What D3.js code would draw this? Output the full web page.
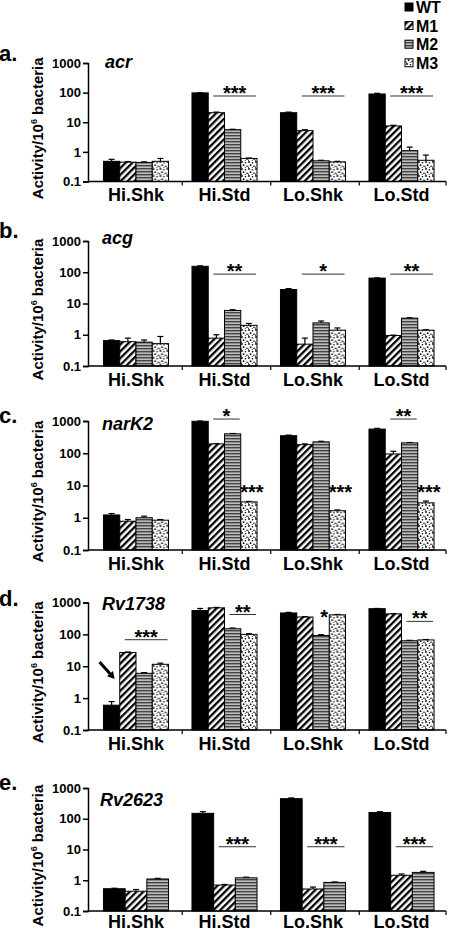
<!DOCTYPE html>
<html><head><meta charset="utf-8">
<script src="https://cdn.jsdelivr.net/npm/d3@7"></script>
<style>body{margin:0;background:#fff}svg{display:block}</style>
</head><body><svg id="chart" width="450" height="931"></svg>
<script>
// ---------------- DATA ----------------
const categories = ["Hi.Shk", "Hi.Std", "Lo.Shk", "Lo.Std"];
const series = ["WT", "M1", "M2", "M3"];
const seriesE = ["WT", "M1", "M2"];
const genes = ["acr", "acg", "narK2", "Rv1738", "Rv2623"];
const panelLetters = ["a.", "b.", "c.", "d.", "e."];
const yTicks = [0.1, 1, 10, 100, 1000];
const yTickLabels = ["0.1", "1", "10", "100", "1000"];

// values[category][series]; errors = top of error bar
const acrValues = [[0.48, 0.45, 0.44, 0.48], [98, 21, 5.6, 0.6], [21, 5.2, 0.5, 0.46], [90, 7.5, 1.1, 0.52]];
const acrErrors = [[0.56, 0.47, 0.46, 0.6], [100, 22, 5.8, 0.62], [22, 5.6, 0.52, 0.48], [95, 7.9, 1.45, 0.78]];
const acgValues = [[0.65, 0.6, 0.58, 0.52], [155, 0.78, 6.0, 2.0], [28, 0.5, 2.4, 1.4], [65, 0.95, 3.4, 1.4]];
const acgErrors = [[0.68, 0.78, 0.68, 0.88], [160, 1.0, 6.3, 2.3], [30, 0.78, 2.75, 1.65], [66, 0.97, 3.5, 1.45]];
const narK2Values = [[1.22, 0.78, 1.0, 0.84], [980, 195, 400, 3.1], [350, 185, 225, 1.65], [560, 95, 210, 2.9]];
const narK2Errors = [[1.35, 0.88, 1.12, 0.88], [1000, 200, 410, 3.2], [365, 195, 235, 1.75], [590, 115, 215, 3.3]];
const rv1738Values = [[0.6, 27, 6, 11.5], [560, 680, 150, 100], [470, 350, 92, 410], [640, 440, 63, 67]];
const rv1738Errors = [[0.78, 28, 6.3, 12.5], [650, 700, 158, 105], [490, 360, 98, 420], [650, 450, 65, 69]];
const rv2623Values = [[0.53, 0.44, 1.1], [150, 0.7, 1.2], [450, 0.52, 0.85], [160, 1.45, 1.8]];
const rv2623Errors = [[0.55, 0.5, 1.15], [170, 0.73, 1.26], [475, 0.6, 0.88], [170, 1.6, 1.95]];

// significance marks: category, first/last series compared, level (data units), label
const acrSig = [
  {cat: "Hi.Std", from: "M1", to: "M3", y: 77, label: "***"},
  {cat: "Lo.Shk", from: "M1", to: "M3", y: 77, label: "***"},
  {cat: "Lo.Std", from: "M1", to: "M3", y: 77, label: "***"}];
const acgSig = [
  {cat: "Hi.Std", from: "M1", to: "M3", y: 87, label: "**"},
  {cat: "Lo.Shk", from: "M1", to: "M3", y: 87, label: "*"},
  {cat: "Lo.Std", from: "M1", to: "M3", y: 87, label: "**"}];
const narK2Sig = [
  {cat: "Hi.Std", from: "M1", to: "M2", y: 1150, label: "*"},
  {cat: "Lo.Std", from: "M1", to: "M2", y: 1150, label: "**"},
  {cat: "Hi.Std", at: "M3", y: 5.2, label: "***"},
  {cat: "Lo.Shk", at: "M3", y: 5.2, label: "***"},
  {cat: "Lo.Std", at: "M3", y: 5.2, label: "***"}];
const rv1738Sig = [
  {cat: "Hi.Shk", from: "M1", to: "M3", y: 68, label: "***"},
  {cat: "Hi.Std", from: "M2", to: "M3", y: 420, label: "**"},
  {cat: "Lo.Shk", at: "M2", y: 275, label: "*"},
  {cat: "Lo.Std", from: "M2", to: "M3", y: 256, label: "**"}];
const rv2623Sig = [
  {cat: "Hi.Std", from: "M1", to: "M2", y: 12.3, label: "***"},
  {cat: "Lo.Shk", from: "M1", to: "M2", y: 12.3, label: "***"},
  {cat: "Lo.Std", from: "M1", to: "M2", y: 12.3, label: "***"}];

// ---------------- LAYOUT ----------------
const panels = [
  {values: acrValues, errors: acrErrors, ser: series, sig: acrSig},
  {values: acgValues, errors: acgErrors, ser: series, sig: acgSig},
  {values: narK2Values, errors: narK2Errors, ser: series, sig: narK2Sig},
  {values: rv1738Values, errors: rv1738Errors, ser: series, sig: rv1738Sig, arrow: true},
  {values: rv2623Values, errors: rv2623Errors, ser: seriesE, sig: rv2623Sig}];
const layout = [
  {top: 63, bottom: 181.5, letterY: 61, geneX: 105, geneY: 68},
  {top: 241, bottom: 366, letterY: 238, geneX: 102, geneY: 244},
  {top: 421, bottom: 550, letterY: 423, geneX: 102, geneY: 430},
  {top: 602.5, bottom: 730, letterY: 606, geneX: 102, geneY: 610},
  {top: 788, bottom: 911, letterY: 790, geneX: 100, geneY: 806}];
const axisX = 88, axisRight = 446;
const FONT = "'Liberation Sans', Arial, Helvetica, sans-serif";

const svg = d3.select("#chart").style("font-family", FONT);
const defs = svg.append("defs");

// patterns
const fills = {WT: "#000", M1: "url(#pM1)", M2: "url(#pM2)", M3: "url(#pM3)"};
const p1 = defs.append("pattern").attr("id", "pM1").attr("patternUnits", "userSpaceOnUse")
  .attr("width", 4.8).attr("height", 4.8).attr("patternTransform", "rotate(45)");
p1.append("rect").attr("width", 4.8).attr("height", 4.8).attr("fill", "#fff");
p1.append("rect").attr("width", 2.3).attr("height", 4.8).attr("fill", "#000");
const p2 = defs.append("pattern").attr("id", "pM2").attr("patternUnits", "userSpaceOnUse")
  .attr("width", 4).attr("height", 3);
p2.append("rect").attr("width", 4).attr("height", 3).attr("fill", "#bcbcbc");
p2.append("rect").attr("width", 4).attr("height", 1.4).attr("fill", "#444");
const p3 = defs.append("pattern").attr("id", "pM3").attr("patternUnits", "userSpaceOnUse")
  .attr("width", 7).attr("height", 7);
p3.append("rect").attr("width", 7).attr("height", 7).attr("fill", "#fff");
[[1, 1, 0.9], [4.5, 1.8, 0.8], [2.6, 4.2, 0.9], [6, 5.2, 0.8], [0.4, 6.2, 0.6], [4.2, 6.6, 0.5]]
  .forEach(([cx, cy, r]) => p3.append("circle").attr("cx", cx).attr("cy", cy).attr("r", r).attr("fill", "#000"));

const x = d3.scaleBand().domain(categories).range([91.75, 445.75]).paddingInner(0.265).paddingOuter(0.1325);

panels.forEach((p, pi) => {
  const L = layout[pi];
  const g = svg.append("g");
  const y = d3.scaleLog().domain([0.1, 1000]).range([L.bottom, L.top]);
  const xs = d3.scaleBand().domain(p.ser).range([0, x.bandwidth()]);

  // bars
  categories.forEach((c, ci) => {
    const gg = g.append("g").attr("transform", `translate(${x(c)},0)`);
    const rows = p.ser.map((s, si) => ({s, v: p.values[ci][si], e: p.errors[ci][si]}));
    gg.selectAll("line.err").data(rows).join("line").attr("class", "err")
      .attr("x1", d => xs(d.s) + xs.bandwidth() / 2).attr("x2", d => xs(d.s) + xs.bandwidth() / 2)
      .attr("y1", d => y(d.v)).attr("y2", d => y(d.e)).attr("stroke", "#000").attr("stroke-width", 1.2);
    gg.selectAll("line.cap").data(rows.filter(d => d.e > d.v * 1.01)).join("line").attr("class", "cap")
      .attr("x1", d => xs(d.s) + xs.bandwidth() / 2 - 3).attr("x2", d => xs(d.s) + xs.bandwidth() / 2 + 3)
      .attr("y1", d => y(d.e)).attr("y2", d => y(d.e)).attr("stroke", "#000").attr("stroke-width", 1.2);
    gg.selectAll("rect").data(rows).join("rect")
      .attr("x", d => xs(d.s)).attr("width", xs.bandwidth())
      .attr("y", d => y(d.v)).attr("height", d => L.bottom - y(d.v))
      .attr("fill", d => fills[d.s]).attr("stroke", "#000").attr("stroke-width", 1);
  });

  // y axis
  const ya = g.append("g").attr("transform", `translate(${axisX},0)`)
    .call(d3.axisLeft(y).tickValues(yTicks).tickFormat((d, i) => yTickLabels[i]).tickSize(5).tickPadding(2));
  ya.select(".domain").attr("stroke-width", 1.5);
  ya.selectAll(".tick line").attr("stroke-width", 1.5);
  ya.selectAll("text").attr("font-size", 13).attr("font-weight", "bold").attr("font-family", FONT).attr("fill", "#000");

  // x axis
  g.append("line").attr("x1", axisX).attr("x2", axisRight).attr("y1", L.bottom).attr("y2", L.bottom)
    .attr("stroke", "#000").attr("stroke-width", 1.5);
  const seps = categories.slice(1).map(c => x(c) - x.step() * x.paddingInner() / 2 + 2).concat([axisRight]);
  g.selectAll("line.sep").data(seps).join("line").attr("class", "sep")
    .attr("x1", d => d).attr("x2", d => d).attr("y1", L.bottom).attr("y2", L.bottom + 4)
    .attr("stroke", "#000").attr("stroke-width", 1.2);
  g.selectAll("text.xl").data(categories).join("text").attr("class", "xl")
    .attr("x", d => x(d) + x.bandwidth() / 2).attr("y", L.bottom + (pi === 4 ? 17 : 19.5))
    .attr("text-anchor", "middle").attr("font-size", 18).attr("font-weight", "bold").text(d => d);

  // y label
  const yl = g.append("text").attr("transform", `translate(43,${(L.top + L.bottom) / 2 + 6}) rotate(-90)`)
    .attr("text-anchor", "middle").attr("font-size", 15).attr("font-weight", "bold");
  yl.append("tspan").text("Activity/10");
  yl.append("tspan").text("6").attr("font-size", 9).attr("dy", -6);
  yl.append("tspan").text(" bacteria").attr("dy", 6);

  // panel letter & gene
  g.append("text").attr("x", -1).attr("y", L.letterY).attr("font-size", 22).attr("font-weight", "bold").text(panelLetters[pi]);
  g.append("text").attr("x", L.geneX).attr("y", L.geneY).attr("font-size", 18).attr("font-weight", "bold")
    .attr("font-style", "italic").text(genes[pi]);

  // significance
  p.sig.forEach(s => {
    const gx = x(s.cat);
    const yy = y(s.y);
    let cx;
    if (s.from) {
      const x1 = gx + xs(s.from) + 5, x2 = gx + xs(s.to) + xs.bandwidth() - 1;
      g.append("line").attr("x1", x1).attr("x2", x2).attr("y1", yy).attr("y2", yy)
        .attr("stroke", "#333").attr("stroke-width", 1);
      cx = (x1 + x2) / 2;
    } else {
      cx = gx + xs(s.at) + xs.bandwidth() / 2 + 3;
    }
    g.append("text").attr("x", cx).attr("y", yy + 4).attr("text-anchor", "middle")
      .attr("font-size", 20).attr("font-weight", "bold").text(s.label);
  });

  // arrow (panel d) pointing at the WT bar in Hi.Shk
  if (p.arrow) {
    const tipX = x("Hi.Shk") + xs("WT") + xs.bandwidth() / 2 + 3, tipY = y(4);
    const tailX = tipX - 15, tailY = tipY - 17;
    const ang = Math.atan2(tipY - tailY, tipX - tailX);
    const hl = 7, hw = 4;
    const bx = tipX - hl * Math.cos(ang), by = tipY - hl * Math.sin(ang);
    g.append("line").attr("x1", tailX).attr("y1", tailY).attr("x2", bx).attr("y2", by)
      .attr("stroke", "#000").attr("stroke-width", 3);
    g.append("path").attr("d", `M${tipX},${tipY}L${bx + hw * Math.sin(ang)},${by - hw * Math.cos(ang)}L${bx - hw * Math.sin(ang)},${by + hw * Math.cos(ang)}Z`)
      .attr("fill", "#000");
  }
});

// legend
const lg = svg.append("g");
series.forEach((s, i) => {
  const cy = 7 + i * 18.6;
  lg.append("rect").attr("x", 405).attr("y", cy - 4).attr("width", 8).attr("height", 8)
    .attr("fill", fills[s]).attr("stroke", "#000").attr("stroke-width", 1);
  lg.append("text").attr("x", 416).attr("y", cy + 6).attr("font-size", 16).attr("font-weight", "bold").text(s);
});
</script></body></html>
